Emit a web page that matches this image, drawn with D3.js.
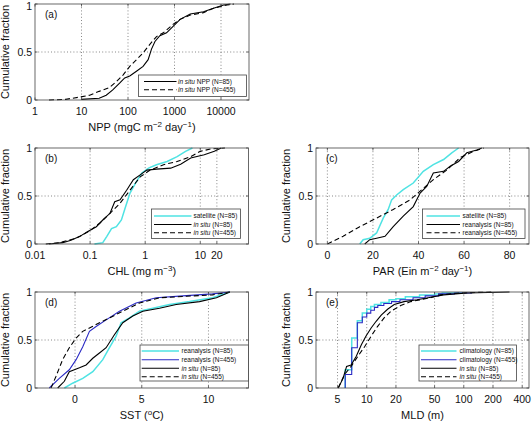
<!DOCTYPE html>
<html><head><meta charset="utf-8">
<script src="https://cdn.jsdelivr.net/npm/d3@7"></script>
<style>body{margin:0;background:#fff}svg{display:block}</style>
</head><body><svg id="c" width="532" height="422"></svg>
<script>
// ---------- data: [value, cumulative fraction] ----------
const nppInSitu85 = [[10,0],[10,0.007],[24,0.018],[34,0.05],[47,0.105],[66,0.175],[85,0.23],[109,0.25],[152,0.30],[211,0.35],[271,0.42],[320,0.53],[380,0.61],[484,0.67],[675,0.70],[944,0.77],[1320,0.84],[2180,0.895],[4200,0.92],[6900,0.955],[11400,0.99],[16000,1]];
const nppInSitu455 = [[2,0],[4.6,0.007],[9,0.03],[15,0.05],[24,0.09],[40,0.13],[56,0.19],[78,0.26],[109,0.35],[152,0.42],[211,0.49],[295,0.58],[410,0.66],[575,0.70],[944,0.79],[1320,0.84],[2180,0.885],[4200,0.91],[6900,0.955],[13500,0.99],[19000,1]];

const chlSat85 = [[0.12,0],[0.17,0.014],[0.2,0.077],[0.245,0.16],[0.30,0.18],[0.37,0.25],[0.43,0.37],[0.53,0.53],[0.66,0.63],[0.87,0.74],[1.15,0.79],[1.6,0.826],[2.5,0.86],[3.8,0.91],[5.4,0.965],[7.2,1]];
const chlInSitu85 = [[0.018,0],[0.032,0.014],[0.045,0.04],[0.064,0.077],[0.091,0.13],[0.13,0.18],[0.17,0.25],[0.23,0.32],[0.28,0.44],[0.35,0.46],[0.46,0.56],[0.61,0.67],[0.81,0.72],[1.07,0.77],[1.6,0.78],[2.9,0.79],[4.4,0.83],[6.7,0.895],[11.8,0.93],[18,0.965],[24,1]];
const chlInSitu455 = [[0.0157,0],[0.028,0.014],[0.056,0.06],[0.098,0.136],[0.149,0.216],[0.23,0.32],[0.35,0.425],[0.53,0.56],[0.81,0.70],[1.23,0.77],[2.15,0.826],[3.8,0.86],[6.7,0.91],[10,0.965],[15.5,0.99],[28,1]];

const parSat85 = [[14.2,0],[15.7,0.045],[18.6,0.06],[21.6,0.115],[24.5,0.27],[26.7,0.36],[28.2,0.46],[30.4,0.51],[33.3,0.566],[37.7,0.635],[42.1,0.757],[46.5,0.826],[51,0.88],[54.6,0.95],[57.6,1]];
const parRean85 = [[16.4,0],[18.6,0.045],[21.6,0.06],[25.3,0.08],[28.9,0.18],[33.3,0.29],[37.7,0.39],[40.7,0.53],[43.6,0.60],[46.5,0.74],[51,0.757],[53.9,0.81],[57.6,0.86],[61.2,0.95],[65.6,0.98],[67.8,1]];
const parRean455 = [[0,0],[6.9,0.08],[14.2,0.18],[21.6,0.27],[28.9,0.36],[36.3,0.46],[40.7,0.55],[46.5,0.67],[52.4,0.77],[58.3,0.90],[64.2,0.965],[68.6,1]];

const sstRean85 = [[-0.8,0],[-0.18,0.05],[0.58,0.10],[1.33,0.17],[2.08,0.295],[2.58,0.42],[3.08,0.54],[3.45,0.68],[4.08,0.73],[4.83,0.80],[5.83,0.83],[7.08,0.87],[8.58,0.90],[10.3,0.94],[11.6,1]];
const sstRean455 = [[-1.93,0],[-1.18,0.10],[-0.43,0.19],[0.08,0.295],[0.58,0.43],[1.08,0.59],[1.58,0.64],[2.33,0.71],[3.33,0.80],[4.58,0.885],[6.08,0.94],[8.08,0.96],[10.3,0.98],[11.6,1]];
const sstInSitu85 = [[-1.3,0],[-0.8,0.07],[-0.43,0.17],[0.33,0.21],[0.83,0.24],[1.33,0.31],[1.83,0.365],[2.33,0.42],[2.95,0.555],[3.58,0.68],[4.33,0.75],[5.08,0.80],[6.33,0.83],[7.58,0.87],[9.33,0.90],[10.6,0.94],[11.6,1]];
const sstInSitu455 = [[-1.8,0],[-1.43,0.12],[-0.93,0.295],[-0.43,0.42],[0.08,0.52],[0.58,0.59],[1.08,0.625],[1.83,0.68],[2.58,0.73],[3.58,0.80],[4.83,0.885],[6.33,0.94],[8.33,0.955],[10.3,0.97],[11.6,1]];

const mldClim85 = [[6,0],[6,0.19],[7,0.19],[7,0.52],[8,0.52],[8,0.70],[9,0.70],[9,0.78],[10,0.78],[10,0.82],[11,0.82],[11,0.85],[12,0.85],[12,0.87],[14,0.87],[14,0.89],[17,0.89],[17,0.92],[20,0.92],[20,0.93],[25,0.93],[25,0.95],[35,0.95],[35,0.97],[50,0.97],[50,0.98],[60,0.98],[60,0.99],[100,0.99],[100,1]];
const mldClim455 = [[6,0],[6,0.14],[7,0.14],[7,0.42],[8,0.42],[8,0.68],[9,0.68],[9,0.74],[10,0.74],[10,0.78],[11,0.78],[11,0.81],[12,0.81],[12,0.84],[13,0.84],[13,0.86],[15,0.86],[15,0.88],[18,0.88],[18,0.90],[22,0.90],[22,0.92],[30,0.92],[30,0.94],[40,0.94],[40,0.96],[55,0.96],[55,0.98],[80,0.98],[80,0.99],[120,0.99],[120,1]];
const mldInSitu85 = [[5.08,0],[5.7,0.10],[6.2,0.225],[6.9,0.24],[7.8,0.33],[8.8,0.45],[9.8,0.54],[11.1,0.625],[12.5,0.695],[14.1,0.76],[16.4,0.82],[19.2,0.87],[24.2,0.90],[33,0.92],[49,0.95],[62,0.97],[108,0.99],[296,1]];
const mldInSitu455 = [[5.08,0],[5.9,0.14],[6.9,0.225],[8.1,0.33],[9.5,0.43],[11.1,0.54],[12.9,0.64],[15.1,0.73],[17.8,0.80],[22.4,0.86],[28.4,0.90],[36,0.92],[45,0.94],[57,0.97],[90,0.99],[200,1]];

// ---------- tick labels ----------
const yTicks = [0, 0.5, 1];
const yTickLabels = ["0", "0.5", "1"];
const nppTicks = [1, 10, 100, 1000, 10000];
const chlTicks = [0.01, 0.1, 1, 10, 20];
const parTicks = [0, 20, 40, 60, 80];
const sstTicks = [0, 5, 10];
const mldTicks = [5, 10, 20, 50, 100, 200, 400];

// ---------- legend labels ----------
const legendA = ["in situ| NPP (N=85)", "in situ| NPP (N=455)"];
const legendB = ["|satellite (N=85)", "in situ| (N=85)", "in situ| (N=455)"];
const legendC = ["|satellite (N=85)", "|reanalysis (N=85)", "|reanalysis (N=455)"];
const legendD = ["|reanalysis (N=85)", "|reanalysis (N=455)", "in situ| (N=85)", "in situ| (N=455)"];
const legendE = ["|climatology (N=85)", "|climatology (N=455)", "in situ| (N=85)", "in situ| (N=455)"];

const CYAN = "#4fe3e3", BLUE = "#2a2ac4", BLACK = "#000";
const FONT = "'Liberation Sans', Arial, Helvetica, sans-serif";

const svg = d3.select("#c");

const panels = [
  {id:"a", tag:"(a)", l:35, r:249, t:4, b:100, type:"log", dom:[1,40000], ticks:nppTicks,
   xlabel:[["NPP (mgC m",0],["−2",1],[" day",0],["−1",1],[")",0]],
   series:[[nppInSitu85,BLACK,false],[nppInSitu455,BLACK,true]], legend:legendA,
   lg:{x0:138.5,x1:246.5,y0:75,y1:96.5,rows:[81.5,89.8],lx0:144,lx1:176.5,tx:178}},
  {id:"b", tag:"(b)", l:35, r:248.5, t:148, b:244, type:"log", dom:[0.01,75], ticks:chlTicks,
   xlabel:[["CHL (mg m",0],["−3",1],[")",0]],
   series:[[chlSat85,CYAN,false],[chlInSitu85,BLACK,false],[chlInSitu455,BLACK,true]], legend:legendB,
   lg:{x0:151.5,x1:240.5,y0:209,y1:238.5,rows:[216,224.5,232.8],lx0:154,lx1:191.5,tx:193.5}},
  {id:"c", tag:"(c)", l:316, r:529, t:148, b:244, type:"lin", dom:[-5,88.5], ticks:parTicks,
   xlabel:[["PAR (Ein m",0],["−2",1],[" day",0],["−1",1],[")",0]],
   series:[[parSat85,CYAN,false],[parRean85,BLACK,false],[parRean455,BLACK,true]], legend:legendC,
   lg:{x0:422.5,x1:525,y0:209,y1:238.5,rows:[216,224.5,232.8],lx0:426.5,lx1:460,tx:462.5}},
  {id:"d", tag:"(d)", l:35, r:248.5, t:292, b:388, type:"lin", dom:[-3,13], ticks:sstTicks,
   xlabel:[["SST (",0],["o",1],["C)",0]],
   series:[[sstRean85,CYAN,false],[sstRean455,BLUE,false],[sstInSitu85,BLACK,false],[sstInSitu455,BLACK,true]], legend:legendD,
   lg:{x0:140,x1:248.5,y0:345,y1:381,rows:[351,359.8,368.3,376.8],lx0:141.7,lx1:179,tx:181.5}},
  {id:"e", tag:"(e)", l:316, r:529, t:292, b:388, type:"log", dom:[3,470], ticks:mldTicks,
   xlabel:[["MLD (m)",0]],
   series:[[mldClim85,CYAN,false],[mldClim455,BLUE,false],[mldInSitu85,BLACK,false],[mldInSitu455,BLACK,true]], legend:legendE,
   lg:{x0:419,x1:516.5,y0:345,y1:381,rows:[351,359.8,368.3,376.8],lx0:421,lx1:456.5,tx:459.5}}
];

panels.forEach(p => {
  const x = (p.type === "log" ? d3.scaleLog() : d3.scaleLinear()).domain(p.dom).range([p.l, p.r]);
  const y = d3.scaleLinear().domain([0, 1]).range([p.b, p.t]);
  const g = svg.append("g");

  g.append("rect").attr("x", p.l).attr("y", p.t).attr("width", p.r - p.l).attr("height", p.b - p.t).attr("fill", "#fff");

  // grid
  p.ticks.forEach(v => {
    const px = x(v);
    if (px > p.l + 1 && px < p.r - 1)
      g.append("line").attr("x1", px).attr("x2", px).attr("y1", p.t).attr("y2", p.b)
        .attr("stroke", "#555").attr("stroke-width", 0.7).attr("stroke-dasharray", "1,2.2");
  });
  yTicks.forEach(v => {
    const py = y(v);
    if (py > p.t + 1 && py < p.b - 1)
      g.append("line").attr("x1", p.l).attr("x2", p.r).attr("y1", py).attr("y2", py)
        .attr("stroke", "#555").attr("stroke-width", 0.7).attr("stroke-dasharray", "1,2.2");
  });

  // data
  const clipId = "clip" + p.id;
  svg.append("clipPath").attr("id", clipId).append("rect")
    .attr("x", p.l).attr("y", p.t - 1).attr("width", p.r - p.l).attr("height", p.b - p.t + 2);
  const line = d3.line().x(d => x(d[0])).y(d => y(d[1]));
  const dg = g.append("g").attr("clip-path", `url(#${clipId})`);
  p.series.forEach(([data, col, dashed]) => {
    dg.append("path").attr("d", line(data)).attr("fill", "none")
      .attr("stroke", col).attr("stroke-width", col === CYAN ? 1.5 : 1.1)
      .attr("stroke-dasharray", dashed ? "5,3" : null);
  });

  // box
  g.append("rect").attr("x", p.l).attr("y", p.t).attr("width", p.r - p.l).attr("height", p.b - p.t)
    .attr("fill", "none").attr("stroke", "#444").attr("stroke-width", 0.8);

  // ticks
  p.ticks.forEach((v, i) => {
    const px = x(v);
    g.append("line").attr("x1", px).attr("x2", px).attr("y1", p.b).attr("y2", p.b - 2.5).attr("stroke", "#444").attr("stroke-width", 0.8);
    g.append("line").attr("x1", px).attr("x2", px).attr("y1", p.t).attr("y2", p.t + 2.5).attr("stroke", "#444").attr("stroke-width", 0.8);
    g.append("text").attr("x", px).attr("y", p.b + 14.5).attr("text-anchor", "middle")
      .attr("font-family", FONT).attr("font-size", 10.5).attr("fill", "#111").text(String(v));
  });
  yTicks.forEach((v, i) => {
    const py = y(v);
    g.append("line").attr("x1", p.l).attr("x2", p.l + 2.5).attr("y1", py).attr("y2", py).attr("stroke", "#444").attr("stroke-width", 0.8);
    g.append("line").attr("x1", p.r).attr("x2", p.r - 2.5).attr("y1", py).attr("y2", py).attr("stroke", "#444").attr("stroke-width", 0.8);
    g.append("text").attr("x", p.l - 3).attr("y", Math.max(py + 3.8, 10)).attr("text-anchor", "end")
      .attr("font-family", FONT).attr("font-size", 10.5).attr("fill", "#111").text(yTickLabels[i]);
  });

  // panel tag
  g.append("text").attr("x", p.l + 10).attr("y", p.t + 14).attr("font-family", FONT)
    .attr("font-size", 10).attr("fill", "#111").text(p.tag);

  // x label
  const xl = g.append("text").attr("x", (p.l + p.r) / 2).attr("y", p.b + 31).attr("text-anchor", "middle")
    .attr("font-family", FONT).attr("font-size", 11).attr("fill", "#111");
  let shift = 0;
  p.xlabel.forEach(([s, sup]) => {
    const ts = xl.append("tspan").text(s);
    if (sup) { ts.attr("font-size", 8).attr("dy", -4.5 - shift); shift = -4.5; }
    else { ts.attr("dy", -shift); shift = 0; }
  });

  // y label
  g.append("text").attr("transform", `translate(${p.l - 26},${(p.t + p.b) / 2}) rotate(-90)`)
    .attr("text-anchor", "middle").attr("font-family", FONT).attr("font-size", 11).attr("fill", "#111")
    .text("Cumulative fraction");

  // legend
  const L = p.lg;
  g.append("rect").attr("x", L.x0).attr("y", L.y0).attr("width", L.x1 - L.x0).attr("height", L.y1 - L.y0)
    .attr("fill", "#fff").attr("stroke", "#444").attr("stroke-width", 0.8);
  p.legend.forEach((lab, i) => {
    const [col, dashed] = [p.series[i][1], p.series[i][2]];
    const ry = L.rows[i];
    g.append("line").attr("x1", L.lx0).attr("x2", L.lx1).attr("y1", ry).attr("y2", ry)
      .attr("stroke", col).attr("stroke-width", col === CYAN ? 1.5 : 1.1)
      .attr("stroke-dasharray", dashed ? "5,3" : null);
    const [it, rest] = lab.split("|");
    const t = g.append("text").attr("x", L.tx).attr("y", ry + 2.3).attr("font-family", FONT)
      .attr("font-size", 6.5).attr("fill", "#111");
    if (it) t.append("tspan").attr("font-style", "italic").text(it);
    t.append("tspan").text(rest);
  });
});
</script></body></html>
